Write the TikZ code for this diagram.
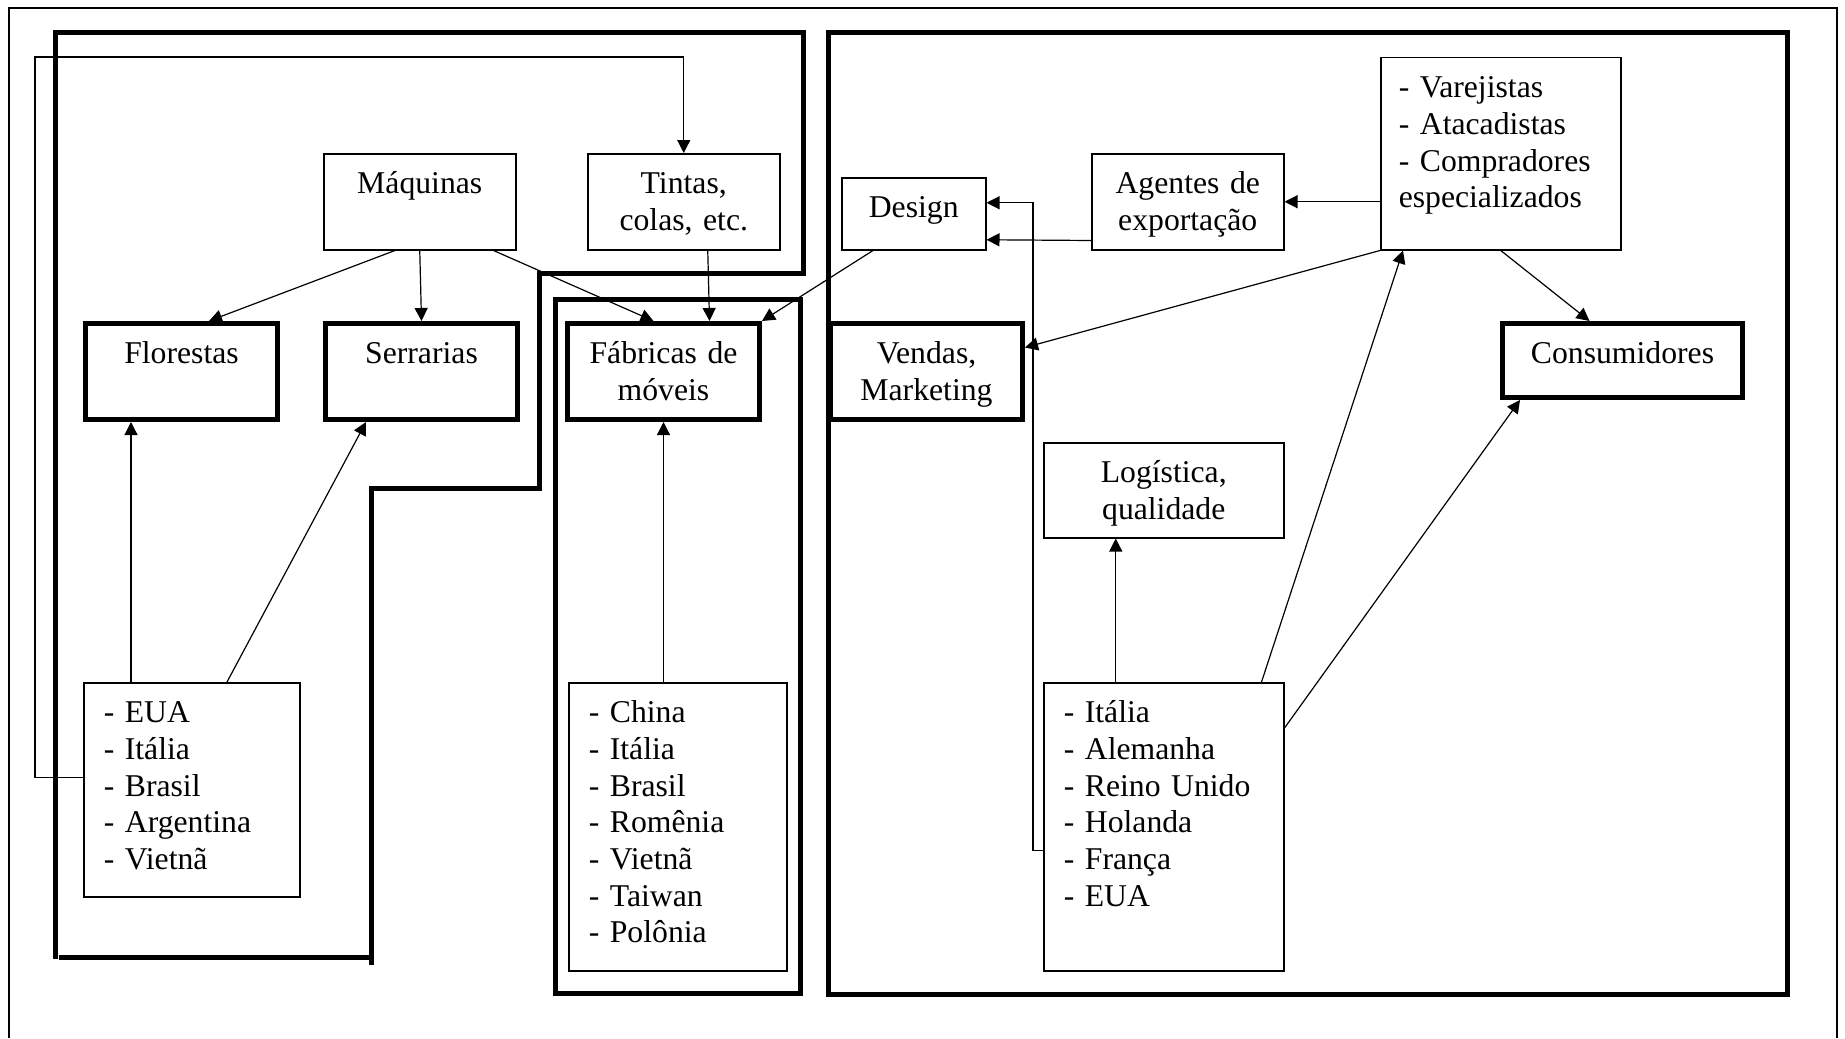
\documentclass[tikz,border=0pt]{standalone}
\usepackage{fontspec}
\setmainfont{Liberation Serif}
\usetikzlibrary{arrows.meta}

\begin{document}
\begin{tikzpicture}[
        x=0.5pt, y=-0.5pt,
        >={Triangle[length=6.5pt,width=6.5pt]},
        every node/.style={font=\fontsize{15.85}{18.35}\selectfont},
        box/.style={draw, line width=0.75pt, anchor=north west, inner xsep=0pt, inner ysep=0pt,
                    align=center, text height=20pt},
        thickbox/.style={box, line width=2.5pt},
        listbox/.style={box, align=left, inner xsep=10pt},
        frame/.style={line width=2.5pt},
        link/.style={->, line width=0.6pt}
      ]
      \useasboundingbox (0,0) rectangle (1845,1038);

      % outer frame and the three regions
      \draw[line width=0.75pt] (9,1038) -- (9,8) -- (1837,8) -- (1837,1038);
      \draw[frame] (371,965) -- (371,488) -- (539,488) -- (539,273) -- (803,273)
        -- (803,33) -- (55,33) -- (55,959);
      \draw[frame] (59,957) -- (371,957);
      \draw[frame] (555,299) rectangle (800,993);
      \draw[frame] (828,33) rectangle (1787,994);

      \node[box, text width=96pt, text depth=28pt] (maq) at (323,153) {Máquinas};
      \node[box, text width=96pt, text depth=28pt] (tin) at (587,153) {Tintas,\\colas, etc.};
      \node[thickbox, text width=96pt, text depth=28pt] (flo) at (83,321) {Florestas};
      \node[thickbox, text width=96pt, text depth=28pt] (ser) at (323,321) {Serrarias};
      \node[thickbox, text width=96pt, text depth=28pt] (fab) at (565,321) {Fábricas de\\móveis};
      \node[listbox, text width=88pt, text depth=87pt] (lst) at (83,682)
        {- EUA\\- Itália\\- Brasil\\- Argentina\\- Vietnã};
      \node[listbox, text width=89pt, text depth=124pt] (chi) at (568,682)
        {- China\\- Itália\\- Brasil\\- Romênia\\- Vietnã\\- Taiwan\\- Polônia};

      \node[box, text width=72pt, text depth=16pt] (des) at (841,177) {Design};
      \node[box, text width=96pt, text depth=28pt] (age) at (1091,153) {Agentes de\\exportação};
      \node[listbox, inner xsep=9pt, text width=102pt, text depth=76pt] (var) at (1380,57)
        {- Varejistas\\- Atacadistas\\- Compradores\\especializados};
      \node[thickbox, text width=96pt, text depth=28pt] (ven) at (828,321) {Vendas,\\Marketing};
      \node[thickbox, text width=120pt, text depth=17pt] (con) at (1500,321) {Consumidores};
      \node[box, text width=120pt, text depth=27.5pt] (log) at (1043,442) {Logística,\\qualidade};
      \node[listbox, text width=100pt, text depth=124pt] (eur) at (1043,682)
        {- Itália\\- Alemanha\\- Reino Unido\\- Holanda\\- França\\- EUA};

      \draw[link] ([xshift=36pt]maq.south west) -- ([xshift=63pt]flo.north west);
      \draw[link] (maq.south) -- (ser.north);
      \draw[link] ([xshift=-11.5pt]maq.south east) -- ([xshift=-5pt]fab.north);
      \draw[link] ([xshift=12pt]tin.south) -- ([xshift=23pt]fab.north);
      \draw[link] ([xshift=16pt]des.south west) -- (fab.north east);
      \draw[link] (fab.south |- chi.north) -- (fab.south);
      \draw[link] ([xshift=24pt]lst.north west) -- ([xshift=24pt]flo.south west);
      \draw[link] ([xshift=72pt]lst.north west) -- ([xshift=21.5pt]ser.south west);

      % loop from the producers back to the suppliers
      \coordinate (loopl) at (35,57);
      \draw[link] ([yshift=6pt]lst.west) -| (loopl) -| (tin.north);

      \draw[link] (age.east -| var.west) -- (age.east);
      \draw[link] ([yshift=5pt]age.south west) -- ([yshift=-13pt]des.east);
      \draw[link] ([yshift=-12pt]eur.west) -- ++(-10,0) |- ([yshift=5.5pt]des.east);
      \draw[link] (var.south west) -- ([yshift=12pt]ven.east);
      \draw[link] (var.south) -- ([xshift=-16.5pt]con.north);
      \draw[link] ([xshift=-24pt]eur.north) -- ([xshift=-24pt]log.south);
      \draw[link] ([xshift=-11.5pt]eur.north east) -- ([xshift=11.5pt]var.south west);
      \draw[link] ([yshift=-23pt]eur.north east) -- ([xshift=10pt]con.south west);

    \end{tikzpicture}
\end{document}
